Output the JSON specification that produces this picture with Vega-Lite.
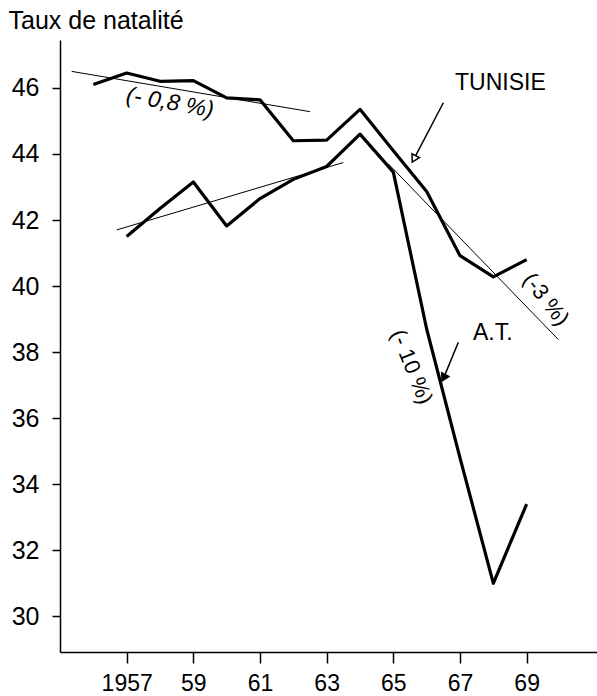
{
  "$schema": "https://vega.github.io/schema/vega-lite/v6.json",
  "width": 537,
  "height": 612,
  "autosize": {"type": "none"},
  "padding": {"left": 60, "top": 40, "right": 0, "bottom": 44},
  "background": "white",
  "config": {"view": {"stroke": null}, "font": "Liberation Sans"},
  "datasets": {
    "series": [
      {"series": "TUNISIE", "year": 1956, "value": 46.1},
      {"series": "TUNISIE", "year": 1957, "value": 46.45},
      {"series": "TUNISIE", "year": 1958, "value": 46.2},
      {"series": "TUNISIE", "year": 1959, "value": 46.22},
      {"series": "TUNISIE", "year": 1960, "value": 45.7},
      {"series": "TUNISIE", "year": 1961, "value": 45.64},
      {"series": "TUNISIE", "year": 1962, "value": 44.4},
      {"series": "TUNISIE", "year": 1963, "value": 44.42},
      {"series": "TUNISIE", "year": 1964, "value": 45.35},
      {"series": "TUNISIE", "year": 1965, "value": 44.1},
      {"series": "TUNISIE", "year": 1966, "value": 42.86},
      {"series": "TUNISIE", "year": 1967, "value": 40.92},
      {"series": "TUNISIE", "year": 1968, "value": 40.28},
      {"series": "TUNISIE", "year": 1969, "value": 40.8},
      {"series": "A.T.", "year": 1957, "value": 41.5},
      {"series": "A.T.", "year": 1958, "value": 42.35},
      {"series": "A.T.", "year": 1959, "value": 43.15},
      {"series": "A.T.", "year": 1960, "value": 41.82},
      {"series": "A.T.", "year": 1961, "value": 42.65},
      {"series": "A.T.", "year": 1962, "value": 43.23},
      {"series": "A.T.", "year": 1963, "value": 43.62},
      {"series": "A.T.", "year": 1964, "value": 44.6},
      {"series": "A.T.", "year": 1965, "value": 43.45},
      {"series": "A.T.", "year": 1966, "value": 38.7},
      {"series": "A.T.", "year": 1967, "value": 34.8},
      {"series": "A.T.", "year": 1968, "value": 31.0},
      {"series": "A.T.", "year": 1969, "value": 33.4}
    ],
    "trends": [
      {"trend": "t1", "year": 1955.35, "value": 46.5},
      {"trend": "t1", "year": 1962.5, "value": 45.28},
      {"trend": "t2", "year": 1956.7, "value": 41.7},
      {"trend": "t2", "year": 1963.5, "value": 43.74},
      {"trend": "t3", "year": 1964.85, "value": 43.7},
      {"trend": "t3", "year": 1969.95, "value": 38.38}
    ],
    "arrows": [
      {"id": "TUNISIE", "year": 1966.5, "value": 45.55, "year2": 1965.62, "value2": 43.85},
      {"id": "A.T.", "year": 1966.95, "value": 38.3, "year2": 1966.51, "value2": 37.22}
    ],
    "labels": [
      {"id": "l1", "text": "(- 0,8 %)", "year": 1958.3, "value": 45.55},
      {"id": "l2", "text": "(-3 %)", "year": 1969.58, "value": 39.6},
      {"id": "l3", "text": "(- 10 %)", "year": 1965.55, "value": 37.55},
      {"id": "n1", "text": "TUNISIE", "year": 1966.85, "value": 45.94},
      {"id": "n2", "text": "A.T.", "year": 1967.39, "value": 38.36}
    ]
  },
  "encoding": {
    "x": {
      "field": "year", "type": "quantitative",
      "scale": {"domain": [1955, 1971.11], "nice": false, "zero": false},
      "axis": {
        "values": [1957, 1959, 1961, 1963, 1965, 1967, 1969],
        "labelExpr": "datum.value == 1957 ? '1957' : substring(toString(datum.value), 2)",
        "title": null, "grid": false,
        "tickSize": 11, "tickWidth": 1.5, "tickColor": "black",
        "domainColor": "black", "domainWidth": 1.5,
        "labelFontSize": 23, "labelColor": "black", "labelPadding": 9,
        "labelFont": "Liberation Sans"
      }
    },
    "y": {
      "field": "value", "type": "quantitative",
      "scale": {"domain": [28.92, 47.45], "nice": false, "zero": false},
      "axis": {
        "values": [30, 32, 34, 36, 38, 40, 42, 44, 46],
        "title": "Taux de natalité",
        "titleAngle": 0, "titleAlign": "left", "titleBaseline": "alphabetic",
        "titleX": -52, "titleY": -12,
        "titleFontSize": 25, "titleFontWeight": "normal", "titleColor": "black",
        "titleFont": "Liberation Sans",
        "grid": false,
        "tickSize": 8, "tickWidth": 1.5, "tickColor": "black",
        "domainColor": "black", "domainWidth": 1.5,
        "labelFontSize": 25, "labelColor": "black", "labelPadding": 13,
        "labelFont": "Liberation Sans"
      }
    }
  },
  "layer": [
    {
      "data": {"name": "trends"},
      "mark": {"type": "line", "color": "black", "strokeWidth": 1},
      "encoding": {"detail": {"field": "trend"}}
    },
    {
      "data": {"name": "series"},
      "mark": {"type": "line", "color": "black", "strokeWidth": 3.2, "strokeJoin": "round"},
      "encoding": {"detail": {"field": "series"}}
    },
    {
      "data": {"name": "arrows"},
      "mark": {"type": "rule", "color": "black", "strokeWidth": 1.5},
      "encoding": {"x2": {"field": "year2"}, "y2": {"field": "value2"}}
    },
    {
      "data": {"name": "arrows"},
      "transform": [{"filter": "datum.id == 'TUNISIE'"}],
      "mark": {"type": "point", "shape": "triangle-up", "angle": 208, "size": 70, "filled": true, "fill": "white", "stroke": "black", "strokeWidth": 1.5, "opacity": 1},
      "encoding": {"x": {"field": "year2", "type": "quantitative"}, "y": {"field": "value2", "type": "quantitative"}}
    },
    {
      "data": {"name": "arrows"},
      "transform": [{"filter": "datum.id == 'A.T.'"}],
      "mark": {"type": "point", "shape": "triangle-up", "angle": 207, "size": 80, "filled": true, "fill": "black", "stroke": "black", "strokeWidth": 1, "opacity": 1},
      "encoding": {"x": {"field": "year2", "type": "quantitative"}, "y": {"field": "value2", "type": "quantitative"}}
    },
    {
      "data": {"name": "labels"},
      "transform": [{"filter": "datum.id == 'l1'"}],
      "mark": {"type": "text", "fontSize": 23, "fontStyle": "italic", "angle": 10, "align": "center", "baseline": "middle", "color": "black", "font": "Liberation Sans"},
      "encoding": {"text": {"field": "text"}}
    },
    {
      "data": {"name": "labels"},
      "transform": [{"filter": "datum.id == 'l2'"}],
      "mark": {"type": "text", "fontSize": 22, "angle": 52, "align": "center", "baseline": "middle", "color": "black", "font": "Liberation Sans"},
      "encoding": {"text": {"field": "text"}}
    },
    {
      "data": {"name": "labels"},
      "transform": [{"filter": "datum.id == 'l3'"}],
      "mark": {"type": "text", "fontSize": 22, "angle": 68, "align": "center", "baseline": "middle", "color": "black", "font": "Liberation Sans"},
      "encoding": {"text": {"field": "text"}}
    },
    {
      "data": {"name": "labels"},
      "transform": [{"filter": "datum.id == 'n1' || datum.id == 'n2'"}],
      "mark": {"type": "text", "fontSize": 23, "align": "left", "baseline": "alphabetic", "color": "black", "font": "Liberation Sans"},
      "encoding": {"text": {"field": "text"}}
    }
  ]
}
